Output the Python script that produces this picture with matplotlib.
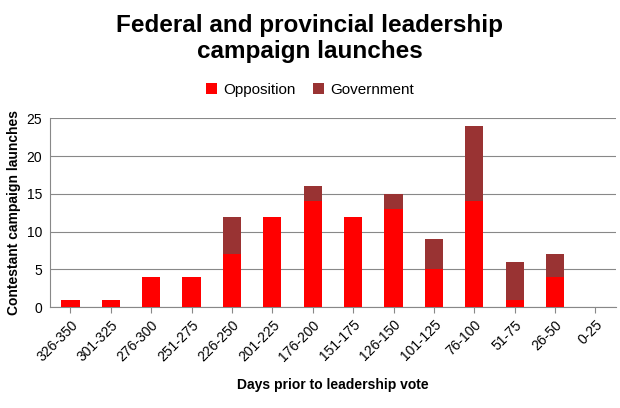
import matplotlib
matplotlib.use("Agg")
import matplotlib.pyplot as plt
import numpy as np

# 期間カテゴリ（投票までの日数）
categories = ["326-350", "301-325", "276-300", "251-275", "226-250", "201-225",
              "176-200", "151-175", "126-150", "101-125", "76-100", "51-75",
              "26-50", "0-25"]
opposition = [1, 1, 4, 4, 7, 12, 14, 12, 13, 5, 14, 1, 4, 0]
government = [0, 0, 0, 0, 5, 0, 2, 0, 2, 4, 10, 5, 3, 0]
y_ticks = [0, 5, 10, 15, 20, 25]

plt.rcParams["font.family"] = "Liberation Sans"

fig = plt.figure(figsize=(6.2, 4.08), dpi=100)
ax = fig.add_axes([0.081, 0.247, 0.912, 0.463])

x = np.arange(len(categories))
ax.bar(x, opposition, width=0.45, color="#ff0000", label="Opposition", zorder=3)
ax.bar(x, government, width=0.45, bottom=opposition, color="#993333",
       label="Government", zorder=3)

ax.set_xlim(-0.5, len(categories) - 0.5)
ax.set_ylim(0, 25)
ax.set_yticks(y_ticks)
ax.set_xticks(x)
ax.set_xticklabels(categories, rotation=45, ha="right", rotation_mode="anchor", fontsize=10)
ax.tick_params(axis="y", labelsize=10, length=0, pad=6)
ax.tick_params(axis="x", length=4, color="#888888")
ax.grid(axis="y", color="#888888", linewidth=0.8, zorder=0)
for s in ["top", "right"]:
    ax.spines[s].set_visible(False)
for s in ["left", "bottom"]:
    ax.spines[s].set_color("#888888")

ax.set_ylabel("Contestant campaign launches", fontsize=10, fontweight="bold")
ax.set_xlabel("Days prior to leadership vote", fontsize=10, fontweight="bold", labelpad=10)

fig.text(0.5, 0.905, "Federal and provincial leadership\ncampaign launches",
         ha="center", va="center", fontsize=17.5, fontweight="bold", linespacing=1.15)
fig.legend(loc="center", bbox_to_anchor=(0.5, 0.78), ncol=2, frameon=False,
           fontsize=11, handlelength=0.7, handleheight=0.7, columnspacing=1.2,
           handletextpad=0.4)

fig.savefig("out.png", dpi=100)
